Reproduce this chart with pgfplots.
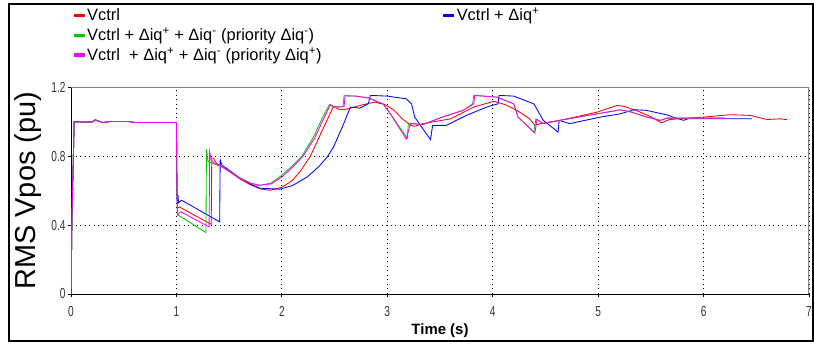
\documentclass[border=0pt]{standalone}
\usepackage{fontspec}
\setmainfont{Liberation Sans}
\usepackage{graphicx}
\usepackage{pgfplots}
\pgfplotsset{compat=1.18}

\definecolor{vred}{RGB}{255,0,0}
\definecolor{vblue}{RGB}{0,0,255}
\definecolor{vgreen}{RGB}{0,200,0}
\definecolor{vmag}{RGB}{255,0,255}
\definecolor{framegray}{RGB}{128,128,128}

% condensed tick digits
\newcommand\sqz[1]{\scalebox{0.7}[1]{#1}}
\newcommand\up[1]{\textsuperscript{#1}}

\begin{document}
\begin{tikzpicture}
\useasboundingbox (0,0) rectangle (814bp,345bp);
\draw[black, line width=1.6bp] (9bp,4bp) rectangle (813bp,341bp);

\begin{axis}[
  at={(71bp,51bp)}, anchor=south west,
  scale only axis, width=738bp, height=206.5bp,
  xmin=0, xmax=7, ymin=0, ymax=1.2,
  axis x line*=bottom, axis y line*=left,
  axis line style={black, line width=1bp},
  xtick={0,1,2,3,4,5,6,7},
  xticklabels={\sqz{0},\sqz{1},\sqz{2},\sqz{3},\sqz{4},\sqz{5},\sqz{6},\sqz{7}},
  ytick={0,0.4,0.8,1.2},
  yticklabels={\sqz{0},\sqz{0.4},\sqz{0.8},\sqz{1.2}},
  tick label style={font=\fontsize{14.5}{16}\selectfont, text=black!80},
  xticklabel style={yshift=-6bp},
  yticklabel style={xshift=1bp},
  tick align=outside, major tick length=3bp,
  tick style={black, line width=0.8bp},
  grid=major,
  major grid style={black, line width=0.9bp, dash pattern=on 1.2bp off 3.3bp},
  xlabel={\textbf{Time (s)}},
  xlabel style={at={(axis description cs:0.5,-0.178)}, anchor=center,
    font=\fontsize{15}{17}\selectfont},
  ylabel={RMS Vpos (pu)},
  ylabel style={at={(axis description cs:-0.058,0.5)}, anchor=center, rotate=0,
    font=\fontsize{29}{32}\selectfont},
  legend columns=2,
  legend cell align=left,
  legend style={at={(axis description cs:-0.003,1.40)}, anchor=north west,
    draw=none, fill=none, font=\fontsize{16.5}{19}\selectfont,
    nodes={inner sep=1bp}, row sep=3.5bp,
    /tikz/every even column/.append style={column sep=119bp}},
  legend image code/.code={\draw[#1, line width=3.2bp] (0bp,0bp) -- (11bp,0bp);},
  every axis plot/.append style={line width=0.85bp, mark=none},
]

% Vctrl
\addplot[vred] coordinates {
 (0,0) (0.01,0.47) (0.02,0.73) (0.03,1.0) (0.2,1.0) (0.23,1.012) (0.3,0.996)
 (0.37,1.002) (0.55,1.002) (0.6,0.997) (1.0,0.997)
 (1.005,0.60) (1.01,0.50) (1.03,0.505) (1.33,0.405) (1.335,0.79) (1.35,0.79)
 (1.38,0.76) (1.43,0.74) (1.5,0.712) (1.6,0.67) (1.7,0.635) (1.8,0.61)
 (1.89,0.603) (2.0,0.62) (2.1,0.66) (2.17,0.709) (2.27,0.80) (2.36,0.92)
 (2.49,1.09) (2.55,1.07) (2.62,1.075) (2.77,1.10) (2.88,1.115) (2.98,1.10)
 (3.06,1.07) (3.14,1.02) (3.22,0.98) (3.26,0.975) (3.34,0.99) (3.6,1.018)
 (3.82,1.086) (4.01,1.12) (4.12,1.10) (4.23,1.067) (4.35,1.018) (4.40,0.98)
 (4.45,0.99) (4.67,1.013) (4.99,1.057) (5.18,1.096) (5.25,1.09) (5.4,1.057)
 (5.5,1.03) (5.60,0.995) (5.68,1.014) (6.0,1.028) (6.25,1.042) (6.44,1.038)
 (6.60,1.014) (6.73,1.018) (6.79,1.013)
};
\addlegendentry{Vctrl}

% Vctrl + diq+
\addplot[vblue] coordinates {
 (0,0) (0.01,0.47) (0.02,0.73) (0.03,1.0) (0.2,1.0) (0.23,1.012) (0.3,0.996)
 (0.37,1.002) (0.55,1.002) (0.6,0.997) (1.0,0.997)
 (1.005,0.60) (1.01,0.52) (1.015,0.574) (1.02,0.53) (1.05,0.545) (1.41,0.419)
 (1.415,0.78) (1.43,0.75) (1.5,0.72) (1.6,0.675) (1.7,0.64) (1.79,0.615)
 (1.98,0.609) (2.1,0.63) (2.24,0.68) (2.35,0.74) (2.43,0.796) (2.49,0.854)
 (2.58,0.98) (2.65,1.086) (2.74,1.08) (2.82,1.105) (2.84,1.154) (3.0,1.15)
 (3.18,1.134) (3.23,1.105) (3.26,1.028) (3.41,0.897) (3.43,0.98) (3.56,0.98)
 (3.75,1.038) (3.96,1.09) (4.05,1.105) (4.06,1.154) (4.2,1.15) (4.39,1.105)
 (4.48,1.009) (4.62,0.941) (4.63,1.009) (4.73,0.99) (5.02,1.028) (5.21,1.047)
 (5.34,1.071) (5.46,1.067) (5.67,1.038) (5.71,1.028) (5.81,1.009) (5.85,1.018)
 (6.46,1.018)
};
\addlegendentry{Vctrl + Δiq\up{+}}

% Vctrl + diq+ + diq- (priority diq-)
\addplot[vgreen] coordinates {
 (0,0) (0.01,0.47) (0.02,0.73) (0.03,1.0) (0.2,1.0) (0.23,1.012) (0.3,0.996)
 (0.37,1.002) (0.55,1.002) (0.6,0.997) (1.0,0.997)
 (1.005,0.60) (1.01,0.46) (1.04,0.45) (1.28,0.357) (1.285,0.84) (1.30,0.77)
 (1.36,0.755) (1.43,0.74) (1.5,0.715) (1.6,0.675) (1.7,0.645) (1.78,0.63)
 (1.9,0.645) (2.0,0.69) (2.1,0.745) (2.19,0.80) (2.30,0.912) (2.38,1.018)
 (2.45,1.10) (2.49,1.087) (2.58,1.088) (2.59,1.152) (2.7,1.15) (2.82,1.14)
 (2.96,1.105) (3.03,1.047) (3.19,0.905) (3.20,0.993) (3.34,0.985) (3.53,1.03)
 (3.72,1.067) (3.81,1.105) (3.82,1.154) (4.04,1.144) (4.2,1.105) (4.24,1.028)
 (4.39,0.94) (4.41,1.018) (4.48,0.99) (4.67,1.013) (4.99,1.047) (5.21,1.07)
 (5.3,1.06) (5.45,1.03) (5.59,1.009) (5.65,1.022) (6.2,1.022)
};
\addlegendentry{Vctrl + Δiq\up{+} + Δiq\up{-} (priority Δiq\up{-})}

\addlegendimage{empty legend}
\addlegendentry{}

% Vctrl + diq+ + diq- (priority diq+)
\addplot[vmag] coordinates {
 (0,0) (0.01,0.47) (0.02,0.73) (0.03,1.0) (0.2,1.0) (0.23,1.012) (0.3,0.996)
 (0.37,1.002) (0.55,1.002) (0.6,0.997) (1.0,0.997)
 (1.005,0.60) (1.01,0.46) (1.04,0.478) (1.31,0.39) (1.315,0.825) (1.33,0.78)
 (1.36,0.76) (1.43,0.74) (1.5,0.715) (1.6,0.675) (1.7,0.645) (1.79,0.632)
 (1.9,0.64) (2.0,0.68) (2.1,0.735) (2.2,0.80) (2.31,0.905) (2.39,1.01)
 (2.46,1.10) (2.5,1.087) (2.59,1.088) (2.60,1.152) (2.7,1.15) (2.82,1.14)
 (2.96,1.105) (3.03,1.047) (3.18,0.90) (3.22,0.99) (3.34,0.985) (3.53,1.03)
 (3.72,1.067) (3.82,1.105) (3.83,1.154) (4.04,1.144) (4.2,1.105) (4.24,1.028)
 (4.40,0.935) (4.42,1.015) (4.48,0.99) (4.67,1.013) (4.99,1.047) (5.21,1.07)
 (5.3,1.06) (5.45,1.03) (5.59,1.009) (5.65,1.022) (6.2,1.022)
};
\addlegendentry{Vctrl \ + Δiq\up{+} + Δiq\up{-} (priority Δiq\up{+})}

% top and right frame of the plot area
\draw[framegray, line width=2bp] (rel axis cs:0,1) -- (rel axis cs:1,1);
\draw[framegray, line width=1.2bp] (rel axis cs:1,1) -- (rel axis cs:1,0);
\end{axis}
\end{tikzpicture}
\end{document}
